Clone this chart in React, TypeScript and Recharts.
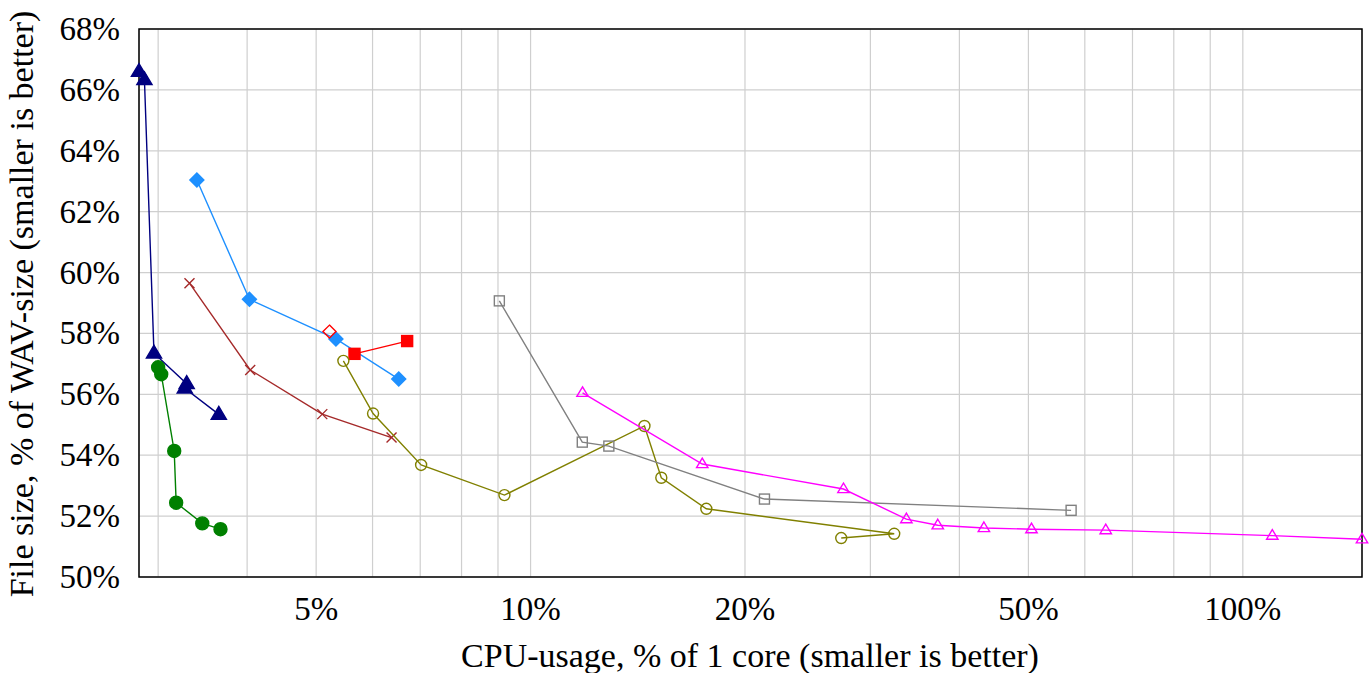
import React from "react";
import {
  ScatterChart,
  Scatter,
  XAxis,
  YAxis,
  CartesianGrid,
  ReferenceArea,
  Label,
} from "recharts";

// cpu = % of one core, size = % of WAV size
const navy = [
  { cpu: 2.82, size: 66.6 },
  { cpu: 2.87, size: 66.33 },
  { cpu: 2.96, size: 57.35 },
  { cpu: 3.29, size: 56.35 },
  { cpu: 3.27, size: 56.2 },
  { cpu: 3.65, size: 55.34 },
];
const green = [
  { cpu: 3.0, size: 56.89 },
  { cpu: 3.03, size: 56.66 },
  { cpu: 3.16, size: 54.14 },
  { cpu: 3.18, size: 52.44 },
  { cpu: 3.46, size: 51.76 },
  { cpu: 3.67, size: 51.57 },
];
const blue = [
  { cpu: 3.4, size: 63.04 },
  { cpu: 4.03, size: 59.12 },
  { cpu: 5.33, size: 57.82 },
  { cpu: 6.53, size: 56.5 },
];
const redOpen = [{ cpu: 5.22, size: 58.06 }];
const redSquares = [
  { cpu: 5.66, size: 57.33 },
  { cpu: 6.71, size: 57.75 },
];
const brown = [
  { cpu: 3.32, size: 59.65 },
  { cpu: 4.04, size: 56.8 },
  { cpu: 5.1, size: 55.35 },
  { cpu: 6.38, size: 54.58 },
];
const olive = [
  { cpu: 5.46, size: 57.1 },
  { cpu: 6.01, size: 55.37 },
  { cpu: 7.02, size: 53.68 },
  { cpu: 9.19, size: 52.69 },
  { cpu: 14.45, size: 54.96 },
  { cpu: 15.26, size: 53.26 },
  { cpu: 17.65, size: 52.24 },
  { cpu: 32.4, size: 51.42 },
  { cpu: 27.3, size: 51.28 },
];
const gray = [
  { cpu: 9.04, size: 59.07 },
  { cpu: 11.82, size: 54.43 },
  { cpu: 12.88, size: 54.3 },
  { cpu: 21.3, size: 52.56 },
  { cpu: 57.4, size: 52.19 },
];
const magenta = [
  { cpu: 11.83, size: 56.05 },
  { cpu: 17.42, size: 53.71 },
  { cpu: 27.5, size: 52.89 },
  { cpu: 33.7, size: 51.9 },
  { cpu: 37.3, size: 51.7 },
  { cpu: 43.3, size: 51.61 },
  { cpu: 50.5, size: 51.57 },
  { cpu: 64.2, size: 51.54 },
  { cpu: 110, size: 51.36 },
  { cpu: 147, size: 51.24 },
];

const xTicks = [3, 4, 5, 6, 7, 8, 9, 10, 20, 30, 40, 50, 60, 70, 80, 90, 100];
const xLabels = [5, 10, 20, 50, 100];
const yTicks = [50, 52, 54, 56, 58, 60, 62, 64, 66, 68];

const FONT = "'Liberation Serif', 'Times New Roman', serif";
const tickStyle = { fontFamily: FONT, fontSize: 33, fill: "#000" };
const labelStyle = { fontFamily: FONT, fontSize: 34, fill: "#000" };

// marker shapes
const triangle = (color: string, filled: boolean, r: number) => (p: any) => (
  <path
    d={`M${p.cx},${p.cy - r} L${p.cx + r * 0.95},${p.cy + r * 0.6} L${p.cx - r * 0.95},${p.cy + r * 0.6} Z`}
    fill={filled ? color : "none"}
    stroke={color}
    strokeWidth={1.4}
  />
);
const circle = (color: string, filled: boolean, r: number) => (p: any) => (
  <circle
    cx={p.cx}
    cy={p.cy}
    r={r}
    fill={filled ? color : "none"}
    stroke={color}
    strokeWidth={1.4}
  />
);
const diamond = (color: string, filled: boolean, r: number) => (p: any) => (
  <path
    d={`M${p.cx},${p.cy - r} L${p.cx + r},${p.cy} L${p.cx},${p.cy + r} L${p.cx - r},${p.cy} Z`}
    fill={filled ? color : "none"}
    stroke={color}
    strokeWidth={1.4}
  />
);
const square = (color: string, filled: boolean, r: number) => (p: any) => (
  <rect
    x={p.cx - r}
    y={p.cy - r}
    width={r * 2}
    height={r * 2}
    fill={filled ? color : "none"}
    stroke={color}
    strokeWidth={1.4}
  />
);
const cross = (color: string, r: number) => (p: any) => (
  <path
    d={`M${p.cx - r},${p.cy - r} L${p.cx + r},${p.cy + r} M${p.cx - r},${p.cy + r} L${p.cx + r},${p.cy - r}`}
    stroke={color}
    strokeWidth={1.4}
    fill="none"
  />
);

const renderXTick = (props: any) => {
  const { x, payload } = props;
  if (!xLabels.includes(payload.value)) return <g />;
  return (
    <text x={x} y={620} textAnchor="middle" style={tickStyle}>
      {payload.value}%
    </text>
  );
};

const renderYTick = (props: any) => {
  const { y, payload } = props;
  return (
    <text x={120} y={y + 11} textAnchor="end" style={tickStyle}>
      {payload.value}%
    </text>
  );
};

const App = () => {
  const lw = 1.4;
  return (
    <div style={{ position: "absolute", left: 0, top: 0, background: "#fff" }}>
      <ScatterChart
        width={1370}
        height={673}
        margin={{ top: 29, right: 8, bottom: 0, left: 0 }}
      >
        <CartesianGrid stroke="#cfcfcf" strokeWidth={1.2} />
        <XAxis
          type="number"
          dataKey="cpu"
          scale="log"
          domain={[2.82, 147]}
          ticks={xTicks}
          interval={0}
          tick={renderXTick}
          tickLine={false}
          axisLine={false}
          height={96}
        >
          <Label
            content={() => (
              <text x={750} y={667} textAnchor="middle" style={labelStyle}>
                CPU-usage, % of 1 core (smaller is better)
              </text>
            )}
          />
        </XAxis>
        <YAxis
          type="number"
          dataKey="size"
          domain={[50, 68]}
          ticks={yTicks}
          interval={0}
          tick={renderYTick}
          tickLine={false}
          axisLine={false}
          width={139}
        >
          <Label
            content={() => (
              <text
                x={0}
                y={0}
                transform="translate(33,304) rotate(-90)"
                textAnchor="middle"
                style={labelStyle}
              >
                File size, % of WAV-size (smaller is better)
              </text>
            )}
          />
        </YAxis>
        <ReferenceArea
          x1={2.82}
          x2={147}
          y1={50}
          y2={68}
          fill="none"
          stroke="#000"
          strokeWidth={1.5}
          ifOverflow="visible"
        />
        <Scatter data={navy} line={{ stroke: "#000080", strokeWidth: lw }} shape={triangle("#000080", true, 8)} isAnimationActive={false} />
        <Scatter data={green} line={{ stroke: "#008000", strokeWidth: lw }} shape={circle("#008000", true, 6.5)} isAnimationActive={false} />
        <Scatter data={blue} line={{ stroke: "#1e90ff", strokeWidth: lw }} shape={diamond("#1e90ff", true, 7)} isAnimationActive={false} />
        <Scatter data={redOpen} shape={diamond("#ff0000", false, 6.5)} isAnimationActive={false} />
        <Scatter data={redSquares} line={{ stroke: "#ff0000", strokeWidth: lw }} shape={square("#ff0000", true, 5.5)} isAnimationActive={false} />
        <Scatter data={brown} line={{ stroke: "#a52a2a", strokeWidth: lw }} shape={cross("#a52a2a", 5)} isAnimationActive={false} />
        <Scatter data={olive} line={{ stroke: "#808000", strokeWidth: lw }} shape={circle("#808000", false, 5.5)} isAnimationActive={false} />
        <Scatter data={gray} line={{ stroke: "#808080", strokeWidth: lw }} shape={square("#808080", false, 5)} isAnimationActive={false} />
        <Scatter data={magenta} line={{ stroke: "#ff00ff", strokeWidth: lw }} shape={triangle("#ff00ff", false, 6)} isAnimationActive={false} />
      </ScatterChart>
    </div>
  );
};

export default App;
